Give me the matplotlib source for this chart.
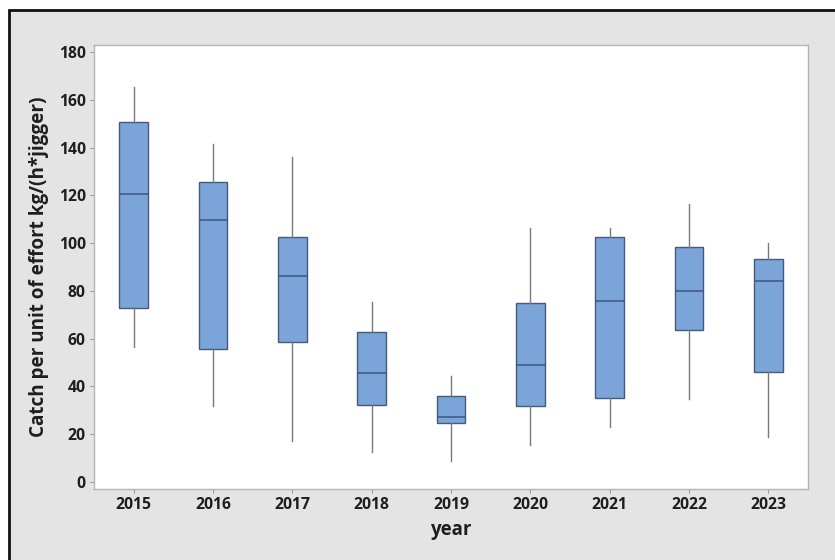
import matplotlib
matplotlib.use("Agg")
import matplotlib.pyplot as plt
from matplotlib.patches import Rectangle

# Catch per unit of effort summary by year
years = ["2015", "2016", "2017", "2018", "2019", "2020", "2021", "2022", "2023"]
whisker_low = [56.4, 31.8, 17.3, 12.7, 8.8, 15.5, 22.9, 34.6, 19.0]
q1 = [72.7, 55.7, 58.7, 32.2, 24.6, 31.8, 35.3, 63.6, 45.9]
median = [120.7, 109.5, 86.2, 45.5, 27.2, 49.0, 75.9, 80.1, 84.3]
q3 = [150.6, 125.7, 102.7, 62.7, 36.0, 75.1, 102.4, 98.2, 93.2]
whisker_high = [165.5, 141.3, 136.2, 75.5, 44.4, 106.3, 106.2, 116.4, 99.9]
y_ticks = [0, 20, 40, 60, 80, 100, 120, 140, 160, 180]

plt.rcParams["font.family"] = ["Open Sans", "DejaVu Sans"]

W, H = 835, 560
fig = plt.figure(figsize=(W / 100, H / 100), dpi=100, facecolor="white")

# grey panel with a black frame on the left and top
fig.patches.append(Rectangle((9 / W, -0.05), 1.2, 1.05 - 9.5 / H,
                             transform=fig.transFigure, facecolor="#e4e4e4",
                             edgecolor="#111111", linewidth=2, zorder=-10))

ax = fig.add_axes([94 / W, 1 - 489 / H, (808 - 94) / W, (489 - 45) / H])
ax.set_facecolor("white")

stats = []
for i, y in enumerate(years):
    stats.append(dict(label=y, med=median[i], q1=q1[i], q3=q3[i],
                      whislo=whisker_low[i], whishi=whisker_high[i], fliers=[]))

ax.bxp(stats, positions=range(1, len(years) + 1), widths=0.36,
       showcaps=False, showfliers=False, patch_artist=True,
       boxprops=dict(facecolor="#7ba5d8", edgecolor="#44597c", linewidth=1.0),
       medianprops=dict(color="#3d557e", linewidth=1.1),
       whiskerprops=dict(color="#7a7a7a", linewidth=1.0))

ax.set_xlim(0.5, 9.5)
ax.set_ylim(-2.9, 182.9)
ax.set_yticks(y_ticks)
ax.set_xticks(range(1, len(years) + 1))
ax.set_xticklabels(years)

for s in ax.spines.values():
    s.set_color("#b4b4b4")
    s.set_linewidth(1.0)

ax.tick_params(axis="both", direction="out", length=3, width=0.8,
               color="#9a9a9a", labelsize=11.3, labelcolor="#1e1e1e", pad=3)
for lab in ax.get_xticklabels() + ax.get_yticklabels():
    lab.set_fontweight("bold")

ax.set_xlabel("year", fontsize=13.5, fontweight="bold", color="#1e1e1e",
              labelpad=5)
ax.set_ylabel("Catch per unit of effort kg/(h*jigger)", fontsize=13.6,
              fontweight="bold", color="#1e1e1e", labelpad=7)

fig.savefig("out.png", dpi=100, facecolor=fig.get_facecolor())
